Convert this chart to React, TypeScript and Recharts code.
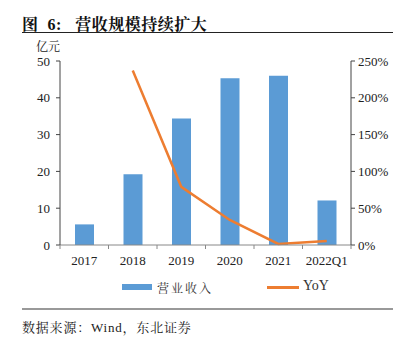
import React from 'react';
import { ComposedChart, Bar, Line, XAxis, YAxis } from 'recharts';

const categories = ['2017', '2018', '2019', '2020', '2021', '2022Q1'];
const revenue = [5.6, 19.2, 34.4, 45.3, 46.0, 12.1];
const yoy: (number | null)[] = [null, 237, 79, 34, 1.5, 5.5];
const leftTicks = [0, 10, 20, 30, 40, 50];
const rightTicks = [0, 50, 100, 150, 200, 250];

const data = categories.map((c, i) => ({ name: c, revenue: revenue[i], yoy: yoy[i] }));

const FONT = '"Liberation Serif", "Times New Roman", "Noto Sans CJK SC", serif';
const CJK = '"Liberation Serif", "Noto Serif CJK SC", "Noto Sans CJK SC", serif';

const CHART_W = 413;
const M = { top: 61, right: 17, bottom: 67, left: 20 };
const LEFT_W = 40;
const RIGHT_W = 45;
const BAND = (CHART_W - M.left - M.right - LEFT_W - RIGHT_W) / categories.length;

const XTick = (props: any) => {
  const { x, y, payload, index } = props;
  const half = BAND / 2;
  return (
    <g>
      <line x1={x - half} x2={x - half} y1={y - 8} y2={y - 4} stroke="#888" />
      {index === categories.length - 1 && (
        <line x1={x + half} x2={x + half} y1={y - 8} y2={y - 4} stroke="#888" />
      )}
      <text x={x} y={y + 12} textAnchor="middle" fontFamily={FONT} fontSize={13} fill="#222">
        {payload.value}
      </text>
    </g>
  );
};

export default function App() {
  return (
    <div style={{ position: 'absolute', left: 0, top: 0, width: 413, height: 342, background: '#fff', fontFamily: CJK }}>
      <div style={{ position: 'absolute', left: 22, top: 12, fontSize: 16, fontWeight: 'bold', color: '#111', whiteSpace: 'nowrap', letterSpacing: 0.5 }}>
        图&nbsp;&nbsp;6:&nbsp;&nbsp;&nbsp;营收规模持续扩大
      </div>
      <div style={{ position: 'absolute', left: 22, top: 32, width: 371, height: 1, background: '#222' }} />
      <div style={{ position: 'absolute', left: 36, top: 37, fontSize: 12, color: '#222' }}>亿元</div>
      <div style={{ position: 'absolute', left: 0, top: 0 }}>
        <ComposedChart
          width={CHART_W}
          height={342}
          data={data}
          margin={M}
          barCategoryGap={0}
        >
          <XAxis
            dataKey="name"
            height={30}
            tick={<XTick />}
            axisLine={{ stroke: '#888' }}
            tickLine={false}
            interval={0}
          />
          <YAxis
            yAxisId="left"
            width={LEFT_W}
            domain={[0, 50]}
            ticks={leftTicks}
            tick={{ fontFamily: FONT, fontSize: 13, fill: '#222' }}
            axisLine={{ stroke: '#444' }}
            tickLine={{ stroke: '#444' }}
            tickSize={4}
            tickMargin={6}
          />
          <YAxis
            yAxisId="right"
            orientation="right"
            width={RIGHT_W}
            domain={[0, 250]}
            ticks={rightTicks}
            tickFormatter={(v: number) => `${v}%`}
            tick={{ fontFamily: FONT, fontSize: 13, fill: '#222' }}
            axisLine={{ stroke: '#444' }}
            tickLine={{ stroke: '#444' }}
            tickSize={4}
            tickMargin={3}
          />
          <Bar yAxisId="left" dataKey="revenue" name="营业收入" fill="#5B9BD5" barSize={19} isAnimationActive={false} />
          <Line
            yAxisId="right"
            dataKey="yoy"
            name="YoY"
            stroke="#ED7D31"
            strokeWidth={2.5}
            dot={false}
            connectNulls={false}
            isAnimationActive={false}
          />
        </ComposedChart>
      </div>
      <div style={{ position: 'absolute', left: 0, top: 279, width: 413, height: 16, fontFamily: CJK, fontSize: 12, color: '#333' }}>
        <div style={{ position: 'absolute', left: 122, top: 5, width: 30, height: 6, background: '#5B9BD5' }} />
        <span style={{ position: 'absolute', left: 157, top: 0, whiteSpace: 'nowrap', letterSpacing: 2 }}>营业收入</span>
        <div style={{ position: 'absolute', left: 267, top: 7, width: 32, height: 3, background: '#ED7D31' }} />
        <span style={{ position: 'absolute', left: 303, top: -1, whiteSpace: 'nowrap', fontSize: 14 }}>YoY</span>
      </div>
      <div style={{ position: 'absolute', left: 22, top: 308, width: 371, height: 2, background: '#999' }} />
      <div style={{ position: 'absolute', left: 22, top: 317, fontSize: 13, color: '#222', whiteSpace: 'nowrap', letterSpacing: 0.8 }}>
        数据来源：Wind，东北证券
      </div>
    </div>
  );
}
